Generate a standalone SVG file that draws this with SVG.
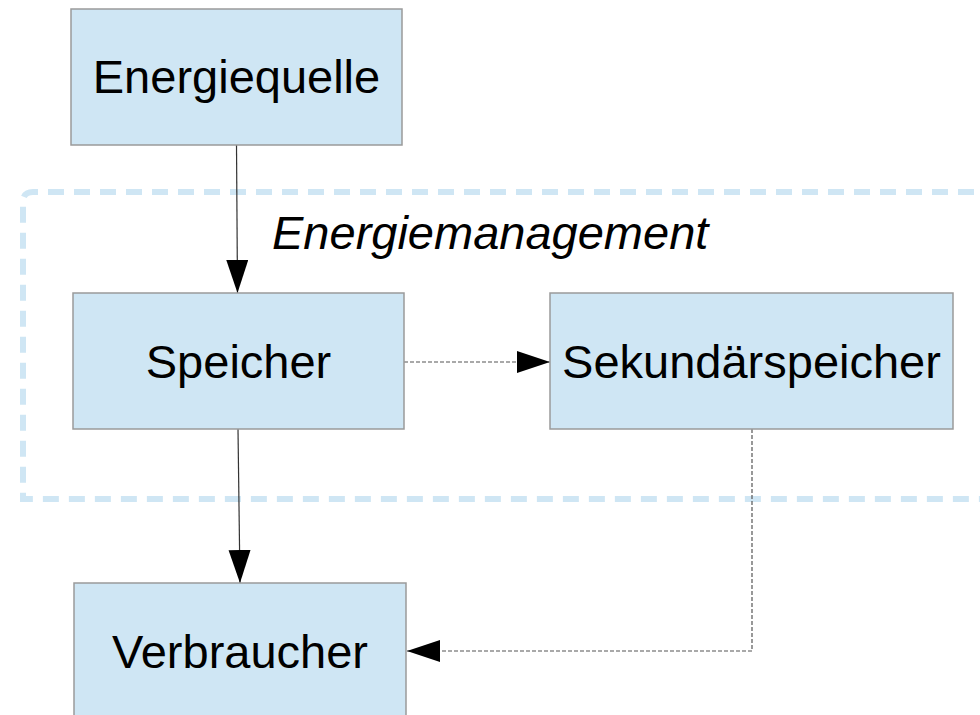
<svg xmlns="http://www.w3.org/2000/svg" width="980" height="715" viewBox="0 0 980 715">
<defs>
<style>
.box{fill:#cfe6f4;stroke:#9a9a9a;stroke-width:1.5}
.lbl{font-family:"Liberation Sans",Arial,sans-serif;font-size:47px;fill:#000;text-anchor:middle}
.solid{stroke:#333;stroke-width:1.2;fill:none}
.dash{stroke:#555;stroke-width:1.2;fill:none;stroke-dasharray:4 2}
.grp{fill:none;stroke:#cfe6f4;stroke-width:6;stroke-dasharray:16 10}
</style>
<marker id="arr" markerUnits="userSpaceOnUse" markerWidth="34" markerHeight="24" refX="33" refY="11" orient="auto">
<path d="M0,0 L33,11 L0,22 Z" fill="#000"/>
</marker>
</defs>
<rect width="980" height="715" fill="#fff"/>
<g id="group-energiemanagement">
<path class="grp" d="M1000,192 H33 Q23,192 23,202 V499 H1000"/>
<text x="272" y="249" style="font-family:'Liberation Sans',Arial,sans-serif;font-size:47px;font-style:italic;fill:#000">Energiemanagement</text>
</g>
<g id="connectors">
<line class="solid" x1="236.5" y1="145" x2="237.5" y2="293" marker-end="url(#arr)"/>
<line class="solid" x1="238" y1="429" x2="240" y2="583" marker-end="url(#arr)"/>
<line class="dash" x1="404" y1="362" x2="550" y2="362" marker-end="url(#arr)"/>
<polyline class="dash" points="752,429 752,651 407,651" marker-end="url(#arr)"/>
</g>
<g id="node-energiequelle">
<rect class="box" x="71" y="9" width="331" height="136"/>
<text class="lbl" x="236.5" y="93">Energiequelle</text>
</g>
<g id="node-speicher">
<rect class="box" x="73" y="293" width="331" height="136"/>
<text class="lbl" x="238.5" y="378">Speicher</text>
</g>
<g id="node-sekundaerspeicher">
<rect class="box" x="550" y="293" width="403" height="136"/>
<text class="lbl" x="751.5" y="378">Sekundärspeicher</text>
</g>
<g id="node-verbraucher">
<rect class="box" x="74" y="583" width="332" height="136"/>
<text class="lbl" x="240" y="668">Verbraucher</text>
</g>
</svg>
